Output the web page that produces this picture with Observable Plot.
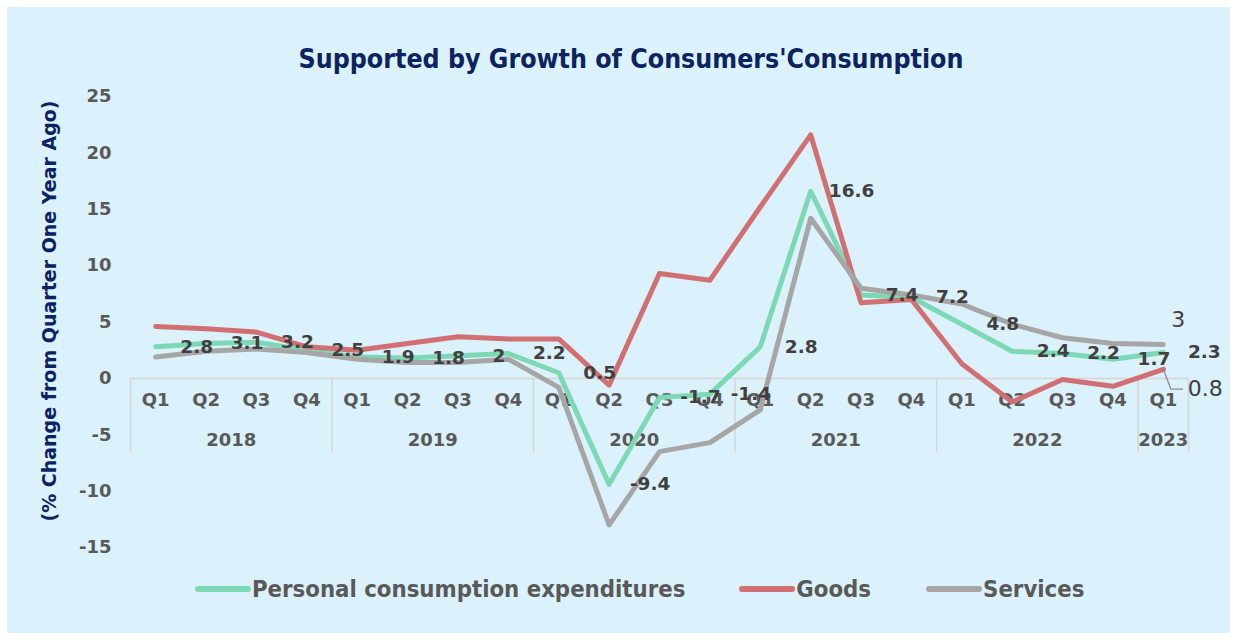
<!DOCTYPE html>
<html>
<head>
<meta charset="utf-8">
<script src="https://cdn.jsdelivr.net/npm/d3@7"></script>
<script src="https://cdn.jsdelivr.net/npm/@observablehq/plot@0.6"></script>
<style>
  html, body { margin: 0; padding: 0; background: #ffffff; }
  #wrap { position: relative; width: 1233px; height: 633px; overflow: hidden; }
  #panel { position: absolute; left: 7px; top: 7px; width: 1223px; height: 626px; background: #DBF1FB; }
  #title { position: absolute; left: 231px; width: 800px; top: 43px; text-align: center;
    font-family: "DejaVu Sans Condensed", "DejaVu Sans", sans-serif; font-weight: bold; font-size: 26.5px; color: #0B2461; }
  #ylab { position: absolute; left: 49px; top: 311px; transform: translate(-50%, -50%) rotate(-90deg);
    white-space: nowrap; font-family: "DejaVu Sans", sans-serif; font-weight: bold; font-size: 19px; color: #0B2461; }
  #chart { position: absolute; left: 0; top: 0; }
  #legend { position: absolute; top: 575px; left: 195px; display: flex; align-items: center;
    font-family: "DejaVu Sans Condensed", "DejaVu Sans", sans-serif; font-weight: bold; font-size: 23.7px; color: #595959; }
  .item { display: flex; align-items: center; }
  .sw { width: 56px; height: 6px; border-radius: 3px; margin-right: 1px; }
</style>
</head>
<body>
<div id="wrap">
  <div id="panel"></div>
  <div id="title">Supported by Growth of Consumers'Consumption</div>
  <div id="ylab">(% Change from Quarter One Year Ago)</div>
  <div id="chart"></div>
  <div id="legend"></div>
</div>
<script>
const quarters = ["Q1","Q2","Q3","Q4","Q1","Q2","Q3","Q4","Q1","Q2","Q3","Q4","Q1","Q2","Q3","Q4","Q1","Q2","Q3","Q4","Q1"];
const years = ["2018","2019","2020","2021","2022","2023"];
const yearQuarterCounts = [4, 4, 4, 4, 4, 1];
const pce = [2.8, 3.1, 3.2, 2.5, 1.9, 1.8, 2.0, 2.2, 0.5, -9.4, -1.7, -1.4, 2.8, 16.6, 7.4, 7.2, 4.8, 2.4, 2.2, 1.7, 2.3];
const goods = [4.6, 4.4, 4.1, 2.8, 2.5, 3.1, 3.7, 3.5, 3.5, -0.6, 9.3, 8.7, 15.2, 21.6, 6.7, 7.0, 1.3, -2.1, -0.1, -0.7, 0.8];
const services = [1.9, 2.4, 2.6, 2.3, 1.7, 1.4, 1.4, 1.7, -0.8, -13.0, -6.5, -5.7, -2.8, 14.2, 8.0, 7.4, 6.6, 4.8, 3.6, 3.1, 3.0];
const seriesNames = ["Personal consumption expenditures", "Goods", "Services"];
const yTicks = [-15, -10, -5, 0, 5, 10, 15, 20, 25];

const colors = ["#7DD8B5", "#D07072", "#A6A6A6"];
const n = quarters.length;
const idx = d3.range(n);

const starts = [];
let acc = 0;
for (const c of yearQuarterCounts) { starts.push(acc); acc += c; }
const bounds = [...starts.map(s => s - 0.5), n - 0.5];
const yearData = years.map((y, i) => ({year: y, x: starts[i] + (yearQuarterCounts[i] - 1) / 2}));

const mk = (arr) => idx.map(i => ({x: i, y: arr[i]}));
const sep = -6.6;
const last = n - 1;

const plot = Plot.plot({
  width: 1233,
  height: 633,
  marginLeft: 130,
  marginRight: 45,
  marginTop: 96,
  marginBottom: 86,
  style: {background: "transparent", fontFamily: "DejaVu Sans, sans-serif"},
  x: {type: "linear", domain: [-0.5, n - 0.5], axis: null},
  y: {domain: [-15, 25], axis: null},
  marks: [
    Plot.axisY(yTicks, {tickSize: 0, tickPadding: 19, tickFormat: d => String(d), fontSize: 18, fontWeight: "bold", fill: "#595959", label: null}),
    Plot.ruleY([0], {stroke: "#D6D6D6", strokeWidth: 1.5}),
    Plot.ruleX(bounds, {x: d => d, y1: 0, y2: sep, stroke: "#D6D6D6", strokeWidth: 1.5}),
    Plot.text(idx, {x: d => d, y: 0, text: d => quarters[d], dy: 22, fontSize: 18, fontWeight: "bold", fill: "#595959"}),
    Plot.text(yearData, {x: "x", y: 0, text: "year", dy: 62, fontSize: 18, fontWeight: "bold", fill: "#595959"}),
    Plot.line(mk(pce), {x: "x", y: "y", stroke: colors[0], strokeWidth: 5, strokeLinejoin: "round", strokeLinecap: "round"}),
    Plot.line(mk(goods), {x: "x", y: "y", stroke: colors[1], strokeWidth: 5, strokeLinejoin: "round", strokeLinecap: "round"}),
    Plot.line(mk(services), {x: "x", y: "y", stroke: colors[2], strokeWidth: 5, strokeLinejoin: "round", strokeLinecap: "round"}),
    Plot.text(mk(pce), {x: "x", y: "y", text: d => String(d.y), dx: 41, fontSize: 18.5, fontWeight: "bold", fill: "#404040"}),
    Plot.text([{x: last, y: services[last]}], {x: "x", y: "y", text: d => String(d.y), dx: 15, dy: -25, fontSize: 22, fill: "#404040"}),
    Plot.line([{x: last, y: goods[last]}, {x: last + 0.15, y: goods[last] - 1.75}, {x: last + 0.38, y: goods[last] - 1.75}],
      {x: "x", y: "y", stroke: "#8C8C8C", strokeWidth: 1.3}),
    Plot.text([{x: last, y: goods[last]}], {x: "x", y: "y", text: d => String(d.y), dx: 42, dy: 20, fontSize: 22, fill: "#404040"})
  ]
});
document.getElementById("chart").appendChild(plot);

const legend = document.getElementById("legend");
const gaps = [0, 54, 55];
seriesNames.forEach((name, i) => {
  const item = document.createElement("div");
  item.className = "item";
  item.style.marginLeft = gaps[i] + "px";
  const sw = document.createElement("div");
  sw.className = "sw";
  sw.style.background = colors[i];
  const t = document.createElement("span");
  t.textContent = name;
  item.appendChild(sw);
  item.appendChild(t);
  legend.appendChild(item);
});
</script>
</body>
</html>
